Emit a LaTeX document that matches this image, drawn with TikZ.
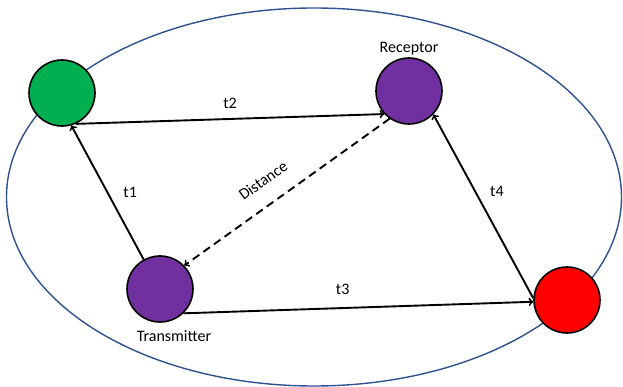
\documentclass[tikz,border=0pt]{standalone}
\usepackage{fontspec}
\setmainfont{Carlito}
\usetikzlibrary{shapes,arrows,positioning,calc}

\definecolor{nodegreen}{HTML}{00B050}
\definecolor{nodepurple}{HTML}{7030A0}
\definecolor{nodered}{HTML}{FF0000}
\definecolor{areablue}{HTML}{2F528F}

\begin{document}
\begin{tikzpicture}[
				x=1pt, y=-1pt,
				every node/.style={font=\fontsize{16}{18}\selectfont},
				station/.style={
						circle,
						draw=black,
						line width=1.6pt,
						minimum size=66pt,
						inner sep=0pt
					},
				link/.style={->, line width=1.9pt, >=to},
				lbl/.style={inner sep=1pt}
			]
			\useasboundingbox (0,0) rectangle (623,387);
			\draw[areablue, line width=1.4pt] (314,197) ellipse [x radius=307.5, y radius=189];

			\node[station, fill=nodegreen] (nodoA) at (62,93) {};
			\node[station, fill=nodepurple] (receptor) at (409,91) {};
			\node[station, fill=nodepurple] (transmisor) at (160,289) {};
			\node[station, fill=nodered] (nodoB) at (567,300) {};

			\node[lbl, above=1pt of receptor] {Receptor};
			\node[lbl, below=6pt of transmisor, xshift=14pt] {Transmitter};

			\draw[link] (nodoA.-66) -- node[lbl, above=8pt] {t2} (receptor.223);
			\draw[link] (transmisor.119) -- node[lbl, right=14pt] {t1} (nodoA.-74);
			\draw[link, dash pattern=on 8pt off 5pt] (receptor.235) -- node[lbl, pos=0.55, above=16pt, sloped] {Distance} (transmisor.44);
			\draw[link] (transmisor.-46) -- node[lbl, pos=0.455, above=11pt] {t3} (nodoB.183);
			\draw[link] (nodoB.177) -- node[lbl, pos=0.58, right=13pt] {t4} (receptor.-44);
		\end{tikzpicture}
\end{document}
